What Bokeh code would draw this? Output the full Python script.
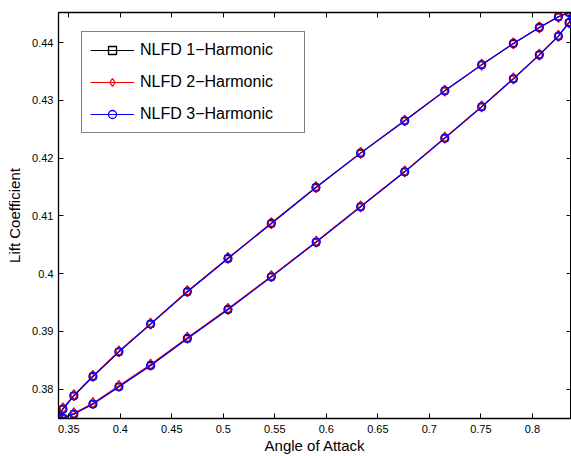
from bokeh.plotting import figure
from bokeh.models import (FixedTicker, CustomJSTickFormatter, LinearAxis, Range1d, Legend)
from bokeh.embed import file_html
from bokeh.resources import INLINE

# ---- data ----
alpha = [0.3400, 0.3443, 0.3549, 0.3734, 0.3986, 0.4294, 0.4651, 0.5045, 0.5466, 0.5899,
         0.6333, 0.6761, 0.7150, 0.7508, 0.7816, 0.8068, 0.8253, 0.8356, 0.8400,
         0.8356, 0.8253, 0.8068, 0.7816, 0.7508, 0.7150, 0.6761, 0.6333, 0.5902, 0.5466,
         0.5045, 0.4651, 0.4294, 0.3986, 0.3734, 0.3549, 0.3443, 0.3400]

cl_h1 = [0.37526, 0.37654, 0.37884, 0.38218, 0.38646, 0.39126, 0.39685, 0.40261, 0.40867, 0.41490,
         0.42085, 0.42645, 0.43164, 0.43614, 0.43983, 0.44260, 0.44445, 0.44520, 0.44470,
         0.44346, 0.44110, 0.43787, 0.43372, 0.42887, 0.42345, 0.41762, 0.41156, 0.40545, 0.39944,
         0.39378, 0.38876, 0.38409, 0.38040, 0.37741, 0.37568, 0.37498, 0.37526]

cl_h2 = [0.37530, 0.37665, 0.37895, 0.38228, 0.38655, 0.39135, 0.39695, 0.40270, 0.40875, 0.41497,
         0.42090, 0.42650, 0.43168, 0.43618, 0.43986, 0.44262, 0.44446, 0.44520, 0.44470,
         0.44348, 0.44114, 0.43792, 0.43378, 0.42893, 0.42352, 0.41770, 0.41165, 0.40555, 0.39955,
         0.39390, 0.38892, 0.38425, 0.38058, 0.37756, 0.37580, 0.37505, 0.37530]

cl_h3 = [0.37526, 0.37654, 0.37884, 0.38218, 0.38646, 0.39126, 0.39685, 0.40261, 0.40867, 0.41490,
         0.42085, 0.42645, 0.43164, 0.43614, 0.43983, 0.44260, 0.44445, 0.44520, 0.44470,
         0.44346, 0.44110, 0.43787, 0.43372, 0.42887, 0.42345, 0.41762, 0.41156, 0.40545, 0.39944,
         0.39378, 0.38876, 0.38409, 0.38040, 0.37741, 0.37568, 0.37498, 0.37526]

series_names = ["NLFD 1\u2212Harmonic", "NLFD 2\u2212Harmonic", "NLFD 3\u2212Harmonic"]

x_ticks = [0.35, 0.4, 0.45, 0.5, 0.55, 0.6, 0.65, 0.7, 0.75, 0.8]
x_tick_labels = ["0.35", "0.4", "0.45", "0.5", "0.55", "0.6", "0.65", "0.7", "0.75", "0.8"]
y_ticks = [0.38, 0.39, 0.40, 0.41, 0.42, 0.43, 0.44]
y_tick_labels = ["0.38", "0.39", "0.4", "0.41", "0.42", "0.43", "0.44"]

FONT = "Liberation Sans"

p = figure(width=571, height=456, output_backend="svg", toolbar_location=None,
           x_range=Range1d(0.34, 0.838), y_range=Range1d(0.37491, 0.4452),
           min_border_left=58, min_border_right=0, min_border_top=12, min_border_bottom=38)
p.background_fill_color = "white"
p.border_fill_color = "white"
p.outline_line_color = "black"
p.outline_line_width = 1
p.xgrid.visible = False
p.ygrid.visible = False

code = """
let best = 0;
for (let i = 0; i < tv.length; i++) {
  if (Math.abs(tv[i] - tick) < Math.abs(tv[best] - tick)) best = i;
}
return tl[best];
"""
xfmt = CustomJSTickFormatter(args=dict(tv=x_ticks, tl=x_tick_labels), code=code)
yfmt = CustomJSTickFormatter(args=dict(tv=y_ticks, tl=y_tick_labels), code=code)
blankfmt = CustomJSTickFormatter(code="return '';")

def style_axis(ax, show_labels):
    ax.major_tick_in = 5
    ax.major_tick_out = 0
    ax.minor_tick_line_color = None
    ax.major_tick_line_color = "black"
    ax.axis_line_color = "black"
    ax.axis_line_width = 1.3
    if show_labels:
        ax.major_label_text_font = FONT
        ax.major_label_text_font_size = "11px"
        ax.major_label_text_color = "black"
        ax.axis_label_text_font = FONT
        ax.axis_label_text_font_size = "15px"
        ax.axis_label_text_font_style = "normal"
        ax.axis_label_text_color = "black"
    else:
        ax.formatter = blankfmt
        ax.major_label_text_font_size = "0px"
        ax.major_label_standoff = 0
        ax.axis_label = None

xa = p.xaxis[0]
xa.ticker = FixedTicker(ticks=x_ticks)
xa.formatter = xfmt
xa.axis_label = "Angle of Attack"
style_axis(xa, True)
xa.major_label_standoff = 6
xa.axis_label_standoff = 1

ya = p.yaxis[0]
ya.ticker = FixedTicker(ticks=y_ticks)
ya.formatter = yfmt
ya.axis_label = "Lift Coefficient"
style_axis(ya, True)
ya.major_label_standoff = 5
ya.axis_label_standoff = 6

top = LinearAxis(ticker=FixedTicker(ticks=x_ticks))
style_axis(top, False)
p.add_layout(top, "above")
right = LinearAxis(ticker=FixedTicker(ticks=y_ticks))
style_axis(right, False)
p.add_layout(right, "right")

colors = ["black", "red", "blue"]
markers = ["square", "diamond", "circle"]
sizes = [6, 11, 8]
items = []
for cl, name, c, m, s in zip([cl_h1, cl_h2, cl_h3], series_names, colors, markers, sizes):
    l = p.line(alpha, cl, line_color=c, line_width=1.1)
    sc = p.scatter(alpha, cl, marker=m, size=s, line_color=c, fill_color=None, line_width=1.3)
    items.append((name, [l, sc]))

legend = Legend(items=items, location=(23, 285))
legend.label_text_font = FONT
legend.label_text_font_size = "16px"
legend.label_text_color = "black"
legend.border_line_color = "black"
legend.border_line_width = 1
legend.background_fill_color = "white"
legend.background_fill_alpha = 1
legend.glyph_width = 44
legend.glyph_height = 20
legend.label_height = 20
legend.label_width = 156
legend.label_standoff = 6
legend.spacing = 12
legend.padding = 8
legend.margin = 0
p.add_layout(legend, "center")

open("out.html", "w").write(file_html(p, INLINE))
